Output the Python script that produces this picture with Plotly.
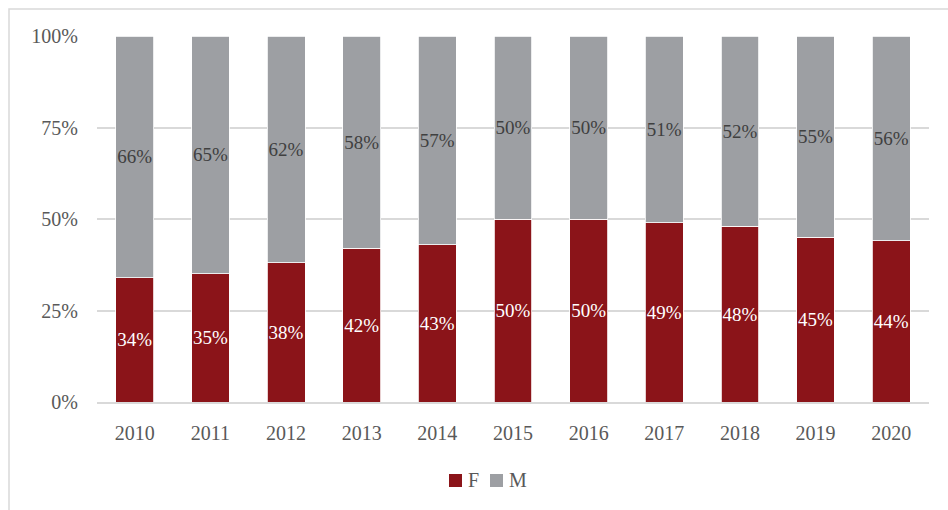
import plotly.graph_objects as go

years = ["2010", "2011", "2012", "2013", "2014", "2015", "2016", "2017", "2018", "2019", "2020"]
female = [34, 35, 38, 42, 43, 50, 50, 49, 48, 45, 44]
male = [66, 65, 62, 58, 57, 50, 50, 51, 52, 55, 56]
y_ticks = [0, 25, 50, 75, 100]
y_tick_labels = ["0%", "25%", "50%", "75%", "100%"]

FONT = "Liberation Serif"
RED = "#8B1419"
GREY = "#9D9FA3"
TEXT = "#595959"

series = [("F", female, RED, "white"), ("M", male, GREY, "#404040")]

fig = go.Figure()
for name, vals, color, label_color in series:
    fig.add_trace(go.Bar(
        x=years, y=vals, name=name,
        marker=dict(color=color, line=dict(color="white", width=0.8)),
        text=[f"{v}%" for v in vals], texttemplate="%{text}",
        textposition="inside", insidetextanchor="middle", textangle=0,
        constraintext="none",
        textfont=dict(family=FONT, size=19, color=label_color),
    ))

L, R, T, B = 97, 19, 36, 108
W, H = 948, 510
pw, ph = W - L - R, H - T - B


def px_x(v):
    return (v - L) / pw


def px_y(v):
    return (ph + T - v) / ph


# compact legend below the plot: swatch + label for each series
shapes = [dict(
    type="rect", xref="paper", yref="paper",
    x0=px_x(9), x1=px_x(W + 5), y0=px_y(H + 5), y1=px_y(9),
    line=dict(color="#D9D9D9", width=1.5), fillcolor="rgba(0,0,0,0)", layer="below",
)]
annotations = []
legend_left = [449, 490]
for (name, _, color, _), left in zip(series, legend_left):
    shapes.append(dict(type="rect", xref="paper", yref="paper",
                       x0=px_x(left), x1=px_x(left + 13), y0=px_y(487), y1=px_y(474),
                       line=dict(width=0), fillcolor=color))
    annotations.append(dict(text=name, xref="paper", yref="paper", x=px_x(left + 17),
                            y=px_y(480), xanchor="left", yanchor="middle", showarrow=False,
                            font=dict(family=FONT, size=20, color=TEXT)))

fig.update_layout(
    width=W, height=H,
    barmode="stack", bargap=0.5,
    margin=dict(l=L, r=R, t=T, b=B),
    plot_bgcolor="white", paper_bgcolor="white",
    font=dict(family=FONT, size=20, color=TEXT),
    showlegend=False,
    shapes=shapes, annotations=annotations,
)
fig.update_xaxes(showgrid=False, showline=True, linecolor="#D9D9D9", linewidth=1.5,
                 ticks="", ticklabelstandoff=12, tickfont=dict(size=20, color=TEXT))
fig.update_yaxes(range=[0, 100], tickvals=y_ticks, ticktext=y_tick_labels,
                 showgrid=True, gridcolor="#D9D9D9", gridwidth=1.5, zeroline=False,
                 ticks="", ticklabelstandoff=18, tickfont=dict(size=20, color=TEXT))

fig.write_html("out.html")
